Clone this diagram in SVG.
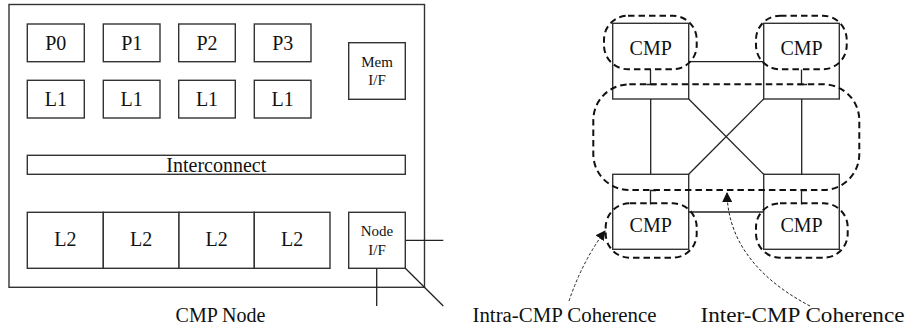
<svg xmlns="http://www.w3.org/2000/svg" width="907" height="326" viewBox="0 0 907 326">
<style>
.box{fill:#fff;stroke:#333;stroke-width:1.4}
.ln{fill:none;stroke:#222;stroke-width:1.3}
.dash{fill:none;stroke:#111;stroke-width:2;stroke-dasharray:6.5 4}
.fine{fill:none;stroke:#222;stroke-width:1;stroke-dasharray:3 2}
text{font-family:"Liberation Serif","Times New Roman",serif;fill:#111;text-anchor:middle}
.t20{font-size:20px}
.t15{font-size:15px}
</style>
<defs>
<marker id="ah" viewBox="0 0 10 10" refX="9" refY="5" markerWidth="10" markerHeight="10" markerUnits="userSpaceOnUse" orient="auto">
<path d="M0,0 L10,5 L0,10 z" fill="#111"/>
</marker>
</defs>
<g id="cmp-node">
<rect class="box" x="9" y="4.5" width="415.5" height="282.8"/>
</g>
<g id="p0"><rect class="box" x="27.3" y="24" width="57" height="37.7"/><text class="t20" x="55.8" y="50">P0</text></g>
<g id="p1"><rect class="box" x="103.3" y="24" width="56.7" height="37.7"/><text class="t20" x="131.7" y="50">P1</text></g>
<g id="p2"><rect class="box" x="178.7" y="24" width="56.6" height="37.7"/><text class="t20" x="207" y="50">P2</text></g>
<g id="p3"><rect class="box" x="254.3" y="24" width="56.7" height="37.7"/><text class="t20" x="282.7" y="50">P3</text></g>
<g id="l1-0"><rect class="box" x="27.3" y="80.3" width="57" height="37.7"/><text class="t20" x="55.8" y="106">L1</text></g>
<g id="l1-1"><rect class="box" x="103.3" y="80.3" width="56.7" height="37.7"/><text class="t20" x="131.7" y="106">L1</text></g>
<g id="l1-2"><rect class="box" x="178.7" y="80.3" width="56.6" height="37.7"/><text class="t20" x="207" y="106">L1</text></g>
<g id="l1-3"><rect class="box" x="254.3" y="80.3" width="56.7" height="37.7"/><text class="t20" x="282.7" y="106">L1</text></g>
<g id="mem-if"><rect class="box" x="348.7" y="42.7" width="56.6" height="56.6"/><text class="t15" x="377" y="66.7">Mem</text><text class="t15" x="377" y="85">I/F</text></g>
<g id="interconnect"><rect class="box" x="27.3" y="155.3" width="378" height="19"/><text class="t20" x="216.3" y="172">Interconnect</text></g>
<g id="l2-0"><rect class="box" x="27.3" y="212.3" width="76" height="56"/><text class="t20" x="65.3" y="246">L2</text></g>
<g id="l2-1"><rect class="box" x="103.3" y="212.3" width="75.7" height="56"/><text class="t20" x="141.2" y="246">L2</text></g>
<g id="l2-2"><rect class="box" x="179" y="212.3" width="75.3" height="56"/><text class="t20" x="216.7" y="246">L2</text></g>
<g id="l2-3"><rect class="box" x="254.3" y="212.3" width="75.7" height="56"/><text class="t20" x="292.2" y="246">L2</text></g>
<g id="node-if"><rect class="box" x="348.7" y="212.3" width="56.6" height="56"/><text class="t15" x="377" y="236">Node</text><text class="t15" x="377" y="255">I/F</text></g>
<g id="cmp-tl"><rect class="box" x="612.7" y="23.3" width="76" height="75.7"/><text class="t20" x="650.7" y="55">CMP</text></g>
<g id="cmp-tr"><rect class="box" x="763.7" y="23.3" width="75.6" height="75.7"/><text class="t20" x="801.5" y="55">CMP</text></g>
<g id="cmp-bl"><rect class="box" x="612.7" y="174.3" width="76" height="75"/><text class="t20" x="650.7" y="231.5">CMP</text></g>
<g id="cmp-br"><rect class="box" x="763.7" y="174.3" width="75.6" height="75"/><text class="t20" x="801.5" y="231.5">CMP</text></g>
<g id="connectors">
<line class="ln" x1="405.3" y1="240.3" x2="443.3" y2="240.3"/>
<line class="ln" x1="376.7" y1="268.3" x2="376.7" y2="306"/>
<line class="ln" x1="405.3" y1="268.3" x2="443.3" y2="306"/>
<line class="ln" x1="688.7" y1="61.7" x2="763.7" y2="61.7"/>
<line class="ln" x1="688.7" y1="212" x2="763.7" y2="212"/>
<line class="ln" x1="650.7" y1="99" x2="650.7" y2="174.3"/>
<line class="ln" x1="801.7" y1="99" x2="801.7" y2="174.3"/>
<line class="ln" x1="688.7" y1="99" x2="763.7" y2="174.3"/>
<line class="ln" x1="763.7" y1="99" x2="688.7" y2="174.3"/>
<path class="ln" d="M650.5,69.5 V84.5 M646.5,84.5 H656"/>
<path class="ln" d="M801.5,69.5 V84.5 M797.5,84.5 H807"/>
<path class="ln" d="M650.5,204.5 V190.5 H656"/>
<path class="ln" d="M801.5,204.5 V190.5 H807"/>
</g>
<g id="coherence-regions">
<rect class="dash" x="604" y="15.7" width="92.7" height="53.6" rx="24" ry="24"/>
<rect class="dash" x="756" y="15.7" width="90.7" height="53.6" rx="24" ry="24"/>
<rect class="dash" x="605.7" y="203.3" width="91" height="54.4" rx="24" ry="24"/>
<rect class="dash" x="756" y="203.3" width="91.7" height="54.4" rx="24" ry="24"/>
<rect class="dash" x="593.3" y="84.3" width="266" height="105.7" rx="36" ry="36"/>
</g>
<g id="labels">
<path class="fine" d="M569,301 Q582,262 605,231" marker-end="url(#ah)"/>
<path class="fine" d="M810,306 C770,285 728,250 727,193" marker-end="url(#ah)"/>
<text class="t20" x="220.5" y="322">CMP Node</text>
<text class="t20" x="564.5" y="322" textLength="184" lengthAdjust="spacingAndGlyphs">Intra-CMP Coherence</text>
<text class="t20" x="802.5" y="322" textLength="204" lengthAdjust="spacingAndGlyphs">Inter-CMP Coherence</text>
</g>
</svg>
